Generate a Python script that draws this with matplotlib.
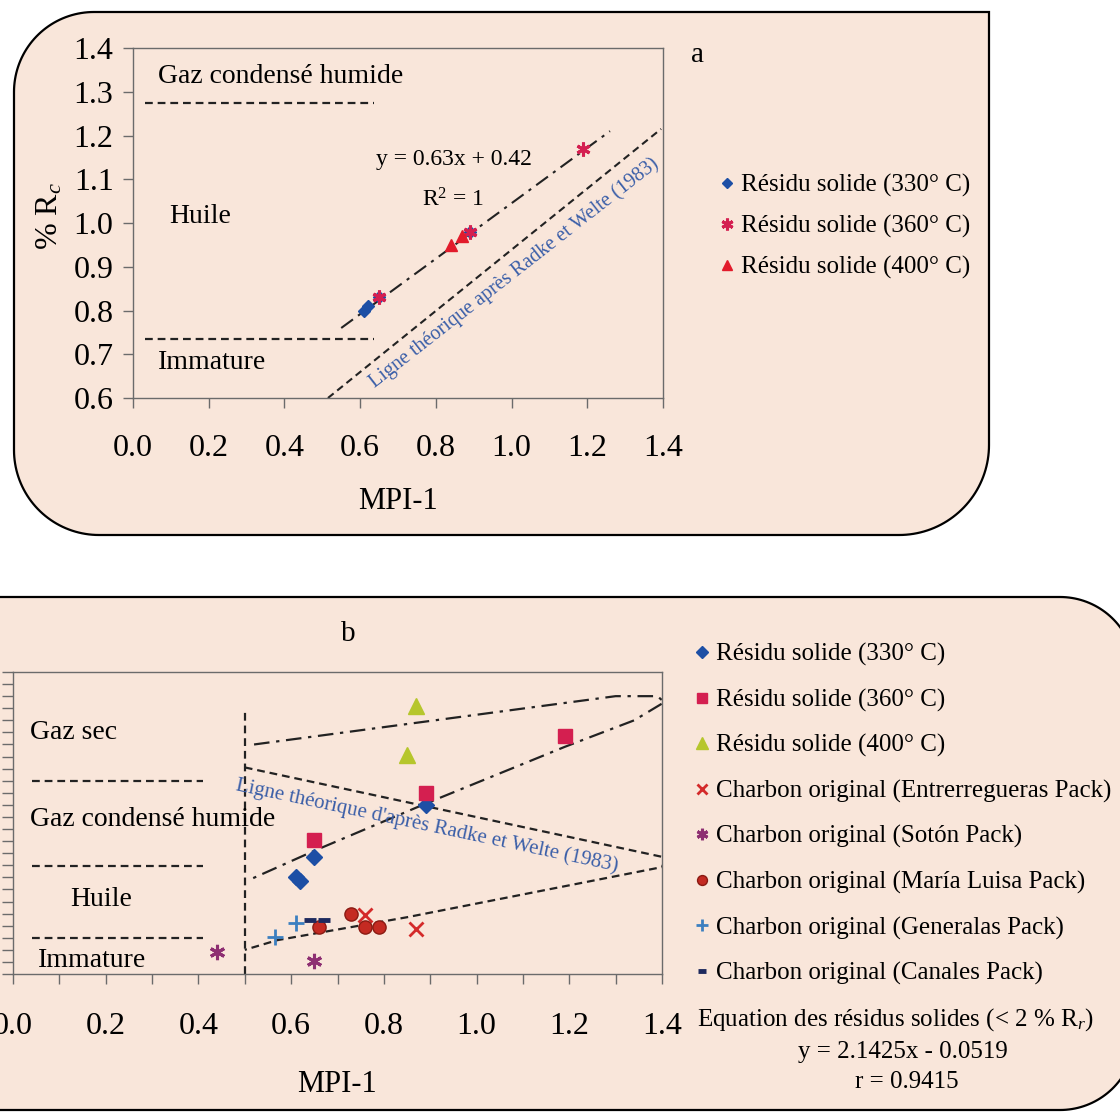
import matplotlib.pyplot as plt
import numpy as np
from matplotlib.patches import Polygon
from matplotlib.ticker import MultipleLocator

plt.rcParams['font.family'] = ['Liberation Serif', 'DejaVu Serif']
plt.rcParams['mathtext.fontset'] = 'custom'
plt.rcParams['mathtext.rm'] = 'Liberation Serif'
plt.rcParams['mathtext.it'] = 'Liberation Serif:italic'

# ---- panel a data (MPI-1 vs calculated Rc) ----
a_330_x = [0.61, 0.62, 0.65, 0.89]
a_330_y = [0.80, 0.81, 0.83, 0.98]
a_360_x = [0.65, 0.89, 1.19]
a_360_y = [0.83, 0.98, 1.17]
a_400_x = [0.84, 0.87]
a_400_y = [0.95, 0.97]
a_reg_x = [0.55, 1.26]
a_reg_y = [0.76, 1.21]
a_theo_x = [0.515, 1.395]
a_theo_y = [0.60, 1.215]
a_zones_y = [1.274, 0.735]

# ---- panel b data ----
b_330_x = [0.61, 0.62, 0.65, 0.89]
b_330_y = [1.20, 1.17, 1.37, 1.80]
b_360_x = [0.65, 0.89, 1.19]
b_360_y = [1.51, 1.90, 2.37]
b_400_x = [0.85, 0.87]
b_400_y = [2.21, 2.62]
entre_x = [0.76, 0.87]
entre_y = [0.89, 0.77]
soton_x = [0.44, 0.65]
soton_y = [0.58, 0.51]
maria_x = [0.66, 0.73, 0.76, 0.79]
maria_y = [0.785, 0.90, 0.785, 0.785]
gener_x = [0.565, 0.61]
gener_y = [0.71, 0.82]
canal_x = [0.64, 0.67]
canal_y = [0.85, 0.85]
b_theo_x = [0.5, 1.4, 1.405, 1.4, 0.85, 0.57, 0.5]
b_theo_y = [2.11, 1.37, 1.33, 1.285, 0.87, 0.68, 0.60]
b_vert_y = [0.4, 2.58]
b_env_x = [0.52, 0.91, 1.30, 1.39, 1.405, 1.34, 1.19, 0.89, 0.65, 0.51]
b_env_y = [2.30, 2.50, 2.70, 2.70, 2.65, 2.50, 2.28, 1.81, 1.42, 1.18]
b_zones_y = [2.0, 1.29, 0.70]

PEACH = '#f9e6da'
BLUE = '#1d4fa5'
CRIMSON = '#d41f50'
RED = '#e21b2b'
YELLOW = '#b6c62c'
TXTBLUE = '#3a5ea8'
SPINE = '#6b6b6b'

W, H = 1120, 1119
fig = plt.figure(figsize=(W / 100, H / 100), dpi=100)
fig.patch.set_facecolor('white')


def box_path(left, top, right, bottom, radii):
    # pixel coords measured from top-left, radii = (tl, tr, br, bl)
    T, B = H - top, H - bottom
    tl, tr, br, bl = radii
    pts = []
    for cx, cy, r, a0, a1 in [(left + tl, T - tl, tl, 180, 90),
                              (right - tr, T - tr, tr, 90, 0),
                              (right - br, B + br, br, 0, -90),
                              (left + bl, B + bl, bl, -90, -180)]:
        ang = np.radians(np.linspace(a0, a1, 40))
        pts += list(zip((cx + r * np.cos(ang)) / W, (cy + r * np.sin(ang)) / H))
    return pts


fig.add_artist(Polygon(box_path(14, 12, 989, 535, (80, 0, 90, 85)), closed=True,
                       transform=fig.transFigure, facecolor=PEACH,
                       edgecolor='black', lw=1.6, zorder=-1))
fig.add_artist(Polygon(box_path(-80, 597, 1135, 1110, (0, 75, 75, 0)), closed=True,
                       transform=fig.transFigure, facecolor=PEACH,
                       edgecolor='black', lw=1.6, zorder=-1))


def style_axes(ax):
    ax.set_facecolor('none')
    for s in ax.spines.values():
        s.set_color(SPINE)
        s.set_linewidth(1.0)


dash = (0, (3.5, 2.2))
dashdot = (0, (7, 3, 1.5, 3))

# ================= panel a =================
axa = fig.add_axes([133 / W, 1 - 398 / H, 530 / W, 350 / H])
style_axes(axa)
axa.set_xlim(0, 1.4)
axa.set_ylim(0.6, 1.4)
axa.set_xticks(np.arange(0, 1.41, 0.2))
axa.set_yticks(np.arange(0.6, 1.41, 0.1))
axa.xaxis.set_major_formatter('{x:.1f}')
axa.yaxis.set_major_formatter('{x:.1f}')
axa.tick_params(axis='both', direction='out', length=7, width=1, color=SPINE, labelsize=23)
axa.tick_params(axis='x', pad=19)
axa.tick_params(axis='y', pad=7)
axa.set_xlabel('MPI-1', fontsize=22)
axa.xaxis.set_label_coords(0.5, -0.253)
axa.set_ylabel('% R$_c$', fontsize=23)
axa.yaxis.set_label_coords(-0.13, 0.52)

for yz in a_zones_y:
    axa.plot([0.032, 0.637], [yz, yz], color='#222', lw=1.6, ls=dash)
axa.plot(a_reg_x, a_reg_y, color='#222', lw=1.5, ls=dashdot)
axa.plot(a_theo_x, a_theo_y, color='#222', lw=1.5, ls=dash)

h1, = axa.plot(a_330_x, a_330_y, ls='none', marker='D', ms=6, color=BLUE,
               label='Résidu solide (330° C)')
h2, = axa.plot(a_360_x, a_360_y, ls='none', marker=(6, 2, 0), ms=10, mew=2.2,
               color=CRIMSON, label='Résidu solide (360° C)')
h3, = axa.plot(a_400_x, a_400_y, ls='none', marker='^', ms=9, color=RED,
               label='Résidu solide (400° C)')

axa.text(0.066, 1.334, 'Gaz condensé humide', fontsize=20, va='center')
axa.text(0.095, 1.014, 'Huile', fontsize=20, va='center')
axa.text(0.066, 0.682, 'Immature', fontsize=20, va='center')
axa.text(0.642, 1.144, 'y = 0.63x + 0.42', fontsize=17, va='center')
axa.text(0.763, 1.053, 'R$^2$ = 1', fontsize=17, va='center')
axa.text(1.007, 0.886, 'Ligne théorique après Radke et Welte (1983)', color=TXTBLUE,
         fontsize=14.5, rotation=38, ha='center', va='center', rotation_mode='anchor')

axa.legend(handles=[h1, h2, h3], loc='upper left',
           bbox_to_anchor=(717 / W, 1 - 174 / H), bbox_transform=fig.transFigure,
           frameon=False, fontsize=18, handlelength=0.8, handletextpad=0.15,
           labelspacing=0.72, borderpad=0, borderaxespad=0, markerscale=0.85)
fig.text(697 / W, 1 - 55 / H, 'a', fontsize=21, ha='center', va='center')

# ================= panel b =================
axb = fig.add_axes([13 / W, 1 - 974 / H, 649 / W, 302 / H])
style_axes(axb)
axb.set_xlim(0, 1.4)
axb.set_ylim(0.4, 2.9)
axb.set_xticks(np.arange(0, 1.41, 0.2))
axb.xaxis.set_minor_locator(MultipleLocator(0.1))
axb.yaxis.set_major_locator(MultipleLocator(0.1))
axb.xaxis.set_major_formatter('{x:.1f}')
axb.tick_params(axis='both', which='both', direction='out', length=7, width=1,
                color=SPINE, labelsize=23)
axb.tick_params(axis='x', pad=20)
axb.tick_params(axis='y', labelleft=False, length=8)
axb.set_xlabel('MPI-1', fontsize=22)
axb.xaxis.set_label_coords(0.5, -0.318)

for yz in b_zones_y:
    axb.plot([0.04, 0.41], [yz, yz], color='#222', lw=1.6, ls=dash)
axb.plot([0.5, 0.5], b_vert_y, color='#222', lw=1.6, ls=dash)
axb.plot(b_theo_x, b_theo_y, color='#222', lw=1.6, ls=dash)
axb.plot(b_env_x, b_env_y, color='#222', lw=1.6, ls=dashdot)

g1, = axb.plot(b_330_x, b_330_y, ls='none', marker='D', ms=8, color=BLUE,
               label='Résidu solide (330° C)')
g2, = axb.plot(b_360_x, b_360_y, ls='none', marker='s', ms=10, color=CRIMSON,
               label='Résidu solide (360° C)')
g3, = axb.plot(b_400_x, b_400_y, ls='none', marker='^', ms=12, color=YELLOW,
               label='Résidu solide (400° C)')
g4, = axb.plot(entre_x, entre_y, ls='none', marker='x', ms=10, mew=2, color='#d42a2a',
               label='Charbon original (Entrerregueras Pack)')
g5, = axb.plot(soton_x, soton_y, ls='none', marker=(6, 2, 0), ms=11, mew=2.2,
               color='#8e2f72', label='Charbon original (Sotón Pack)')
g6, = axb.plot(maria_x, maria_y, ls='none', marker='o', ms=9.5, color='#c42a22',
               mec='#8a1a12', label='Charbon original (María Luisa Pack)')
g7, = axb.plot(gener_x, gener_y, ls='none', marker='+', ms=11, mew=2, color='#3c7fc0',
               label='Charbon original (Generalas Pack)')
g8, = axb.plot(canal_x, canal_y, ls='none', marker='_', ms=8, mew=3.5, color='#1e2a5e',
               label='Charbon original (Canales Pack)')

axb.text(0.037, 2.40, 'Gaz sec', fontsize=20, va='center')
axb.text(0.037, 1.68, 'Gaz condensé humide', fontsize=20, va='center')
axb.text(0.123, 1.02, 'Huile', fontsize=20, va='center')
axb.text(0.054, 0.515, 'Immature', fontsize=20, va='center')
axb.text(0.894, 1.629, "Ligne théorique d'après Radke et Welte (1983)", color=TXTBLUE,
         fontsize=15, rotation=-12, ha='center', va='center', rotation_mode='anchor')

axb.legend(handles=[g1, g2, g3, g4, g5, g6, g7, g8], loc='upper left',
           bbox_to_anchor=(692 / W, 1 - 643 / H), bbox_transform=fig.transFigure,
           frameon=False, fontsize=18, handlelength=0.8, handletextpad=0.15,
           labelspacing=0.9, borderpad=0, borderaxespad=0, markerscale=0.75)
fig.text(348 / W, 1 - 634 / H, 'b', fontsize=21, ha='center', va='center')
fig.text(697 / W, 1 - 1020 / H, 'Equation des résidus solides (< 2 % R$_r$)',
         fontsize=18, ha='left', va='center')
fig.text(903 / W, 1 - 1052 / H, 'y = 2.1425x - 0.0519', fontsize=18, ha='center', va='center')
fig.text(907 / W, 1 - 1082 / H, 'r = 0.9415', fontsize=18, ha='center', va='center')

plt.savefig('out.png', dpi=100)
